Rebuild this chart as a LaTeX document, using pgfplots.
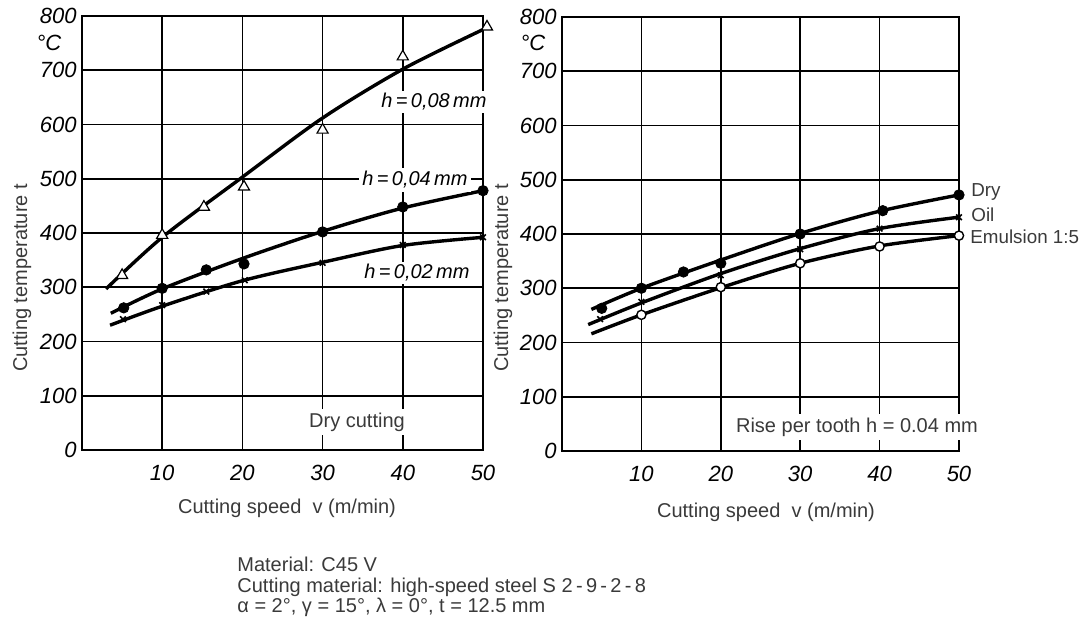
\documentclass[border=0pt]{standalone}
\usepackage{pgfplots}
\pgfplotsset{compat=1.18}
\usepackage{fontspec}
\setmainfont{Liberation Sans}
\definecolor{txtgray}{HTML}{3A3A3A}
\begin{document}
\begin{tikzpicture}
\path[use as bounding box] (0pt,0pt) rectangle (542pt,315pt);
\pgfplotsset{
 myaxis/.style={
  scale only axis, width=200.5pt, height=217pt, anchor=south west,
  xmin=0,xmax=50,ymin=0,ymax=800,
  xtick={10,20,30,40,50}, ytick={0,100,...,800},
  grid=major, major grid style={black, line width=0.85pt},
  axis line style={line width=1pt},
  major tick length=0pt,
  tick label style={font=\fontsize{11}{13}\selectfont\itshape},
  /pgf/number format/assume math mode=true,
  yticklabel style={anchor=east, inner sep=0pt, xshift=-2.5pt},
  xticklabel style={anchor=north, inner sep=0pt, yshift=-7.5pt},
  clip=false,
 },
 crv/.style={smooth, no marks, line width=1.7pt, black},
}
% ---------------- left chart ----------------
\begin{axis}[myaxis, at={(41pt,90pt)}]
% h = 0.08 mm
\addplot[crv] coordinates {(3,297) (10,392) (20,503) (30,612) (40,702) (50,775)};
\addplot[only marks, mark=triangle*, mark size=3.2pt, mark options={fill=white, draw=black, line width=0.6pt}]
 coordinates {(5,322) (10,396) (15.2,448) (20.2,485) (30,590) (40,725) (50.5,780)};
% h = 0.04 mm
\addplot[crv] coordinates {(3.6,252) (10,297) (20,353) (30,403) (40,446) (50,478)};
\addplot[only marks, mark=*, mark size=2.6pt, black]
 coordinates {(5.2,262) (10,298) (15.5,332) (20.2,343) (30,402) (40,448) (50,478)};
% h = 0.02 mm
\addplot[crv] coordinates {(3.5,230) (10,265) (20,312) (30,346) (40,377) (50,392)};
\addplot[only marks, mark=x, mark size=2pt, mark options={line width=0.8pt}, black]
 coordinates {(5.1,241) (10,267) (15.5,292) (20.3,313) (30,345) (40,378) (50,392)};
\end{axis}
% ---------------- right chart ----------------
\begin{axis}[myaxis, at={(281pt,89.5pt)}, width=198.5pt]
% Dry
\addplot[crv] coordinates {(3.7,261) (10,300) (20,352) (30,401) (40,442) (50,472)};
\addplot[only marks, mark=*, mark size=2.6pt, black]
 coordinates {(5,263) (10,300) (15.3,330) (20,346) (30,400) (40.4,443) (50,472)};
% Oil
\addplot[crv] coordinates {(3.3,233) (10,273) (20,327) (30,373) (40,410) (50,431)};
\addplot[only marks, mark=x, mark size=2pt, mark options={line width=0.8pt}, black]
 coordinates {(4.8,243) (10,275) (20,324) (30,372) (40,410) (50,431)};
% Emulsion 1:5
\addplot[crv] coordinates {(3.7,216) (10,251) (20,301) (30,346) (40,378) (50,397)};
\addplot[only marks, mark=*, mark size=2.3pt, mark options={fill=white, draw=black, line width=0.7pt}]
 coordinates {(10,251) (20,302) (30,346) (40,377) (50,397)};
\end{axis}
% ---------------- texts ----------------
\begin{scope}[x=0.5pt,y=0.5pt]
\def\fs{\fontsize{10}{12}\selectfont}
\node[font=\fontsize{11}{13}\selectfont\itshape] at (49,587) {°C};
\node[font=\fontsize{11}{13}\selectfont\itshape] at (533,587) {°C};
\node[font=\fs, text=txtgray, rotate=90] at (22,352) {Cutting temperature t};
\node[font=\fs, text=txtgray, rotate=90] at (503,352) {Cutting temperature t};
\node[font=\fs, text=txtgray] at (287,122) {Cutting speed\ \ v (m/min)};
\node[font=\fs, text=txtgray] at (766,118) {Cutting speed\ \ v (m/min)};
\node[font=\fs\itshape, fill=white, inner sep=1pt] at (434,528) {h\,=\,0,08\,mm};
\node[font=\fs\itshape, fill=white, inner sep=1.5pt] at (415,450) {h\,=\,0,04\,mm};
\node[font=\fs\itshape, fill=white, inner sep=1pt] at (417,357) {h\,=\,0,02\,mm};
\node[font=\fs, text=txtgray, fill=white, inner sep=2pt] at (357,208) {Dry cutting};
\node[font=\fs, text=txtgray, fill=white, inner sep=2pt] at (857,203) {Rise per tooth h = 0.04 mm};
\node[font=\fontsize{9.4}{11}\selectfont, text=txtgray, anchor=west, inner sep=0pt] at (971,438) {Dry};
\node[font=\fontsize{9.4}{11}\selectfont, text=txtgray, anchor=west, inner sep=0pt] at (971,415) {Oil};
\node[font=\fontsize{9.4}{11}\selectfont, text=txtgray, anchor=west, inner sep=0pt] at (970,393) {Emulsion 1:5};
\node[font=\fs, text=txtgray, anchor=base west, inner sep=0pt] at (237,58) {Material: C45 V};
\node[font=\fs, text=txtgray, anchor=base west, inner sep=0pt] at (237,37) {Cutting material: high-speed steel S 2\,-\,9\,-\,2\,-\,8};
\node[font=\fs, text=txtgray, anchor=base west, inner sep=0pt] at (237,17) {α = 2°, γ = 15°, λ = 0°, t = 12.5 mm};
\end{scope}
\end{tikzpicture}
\end{document}
